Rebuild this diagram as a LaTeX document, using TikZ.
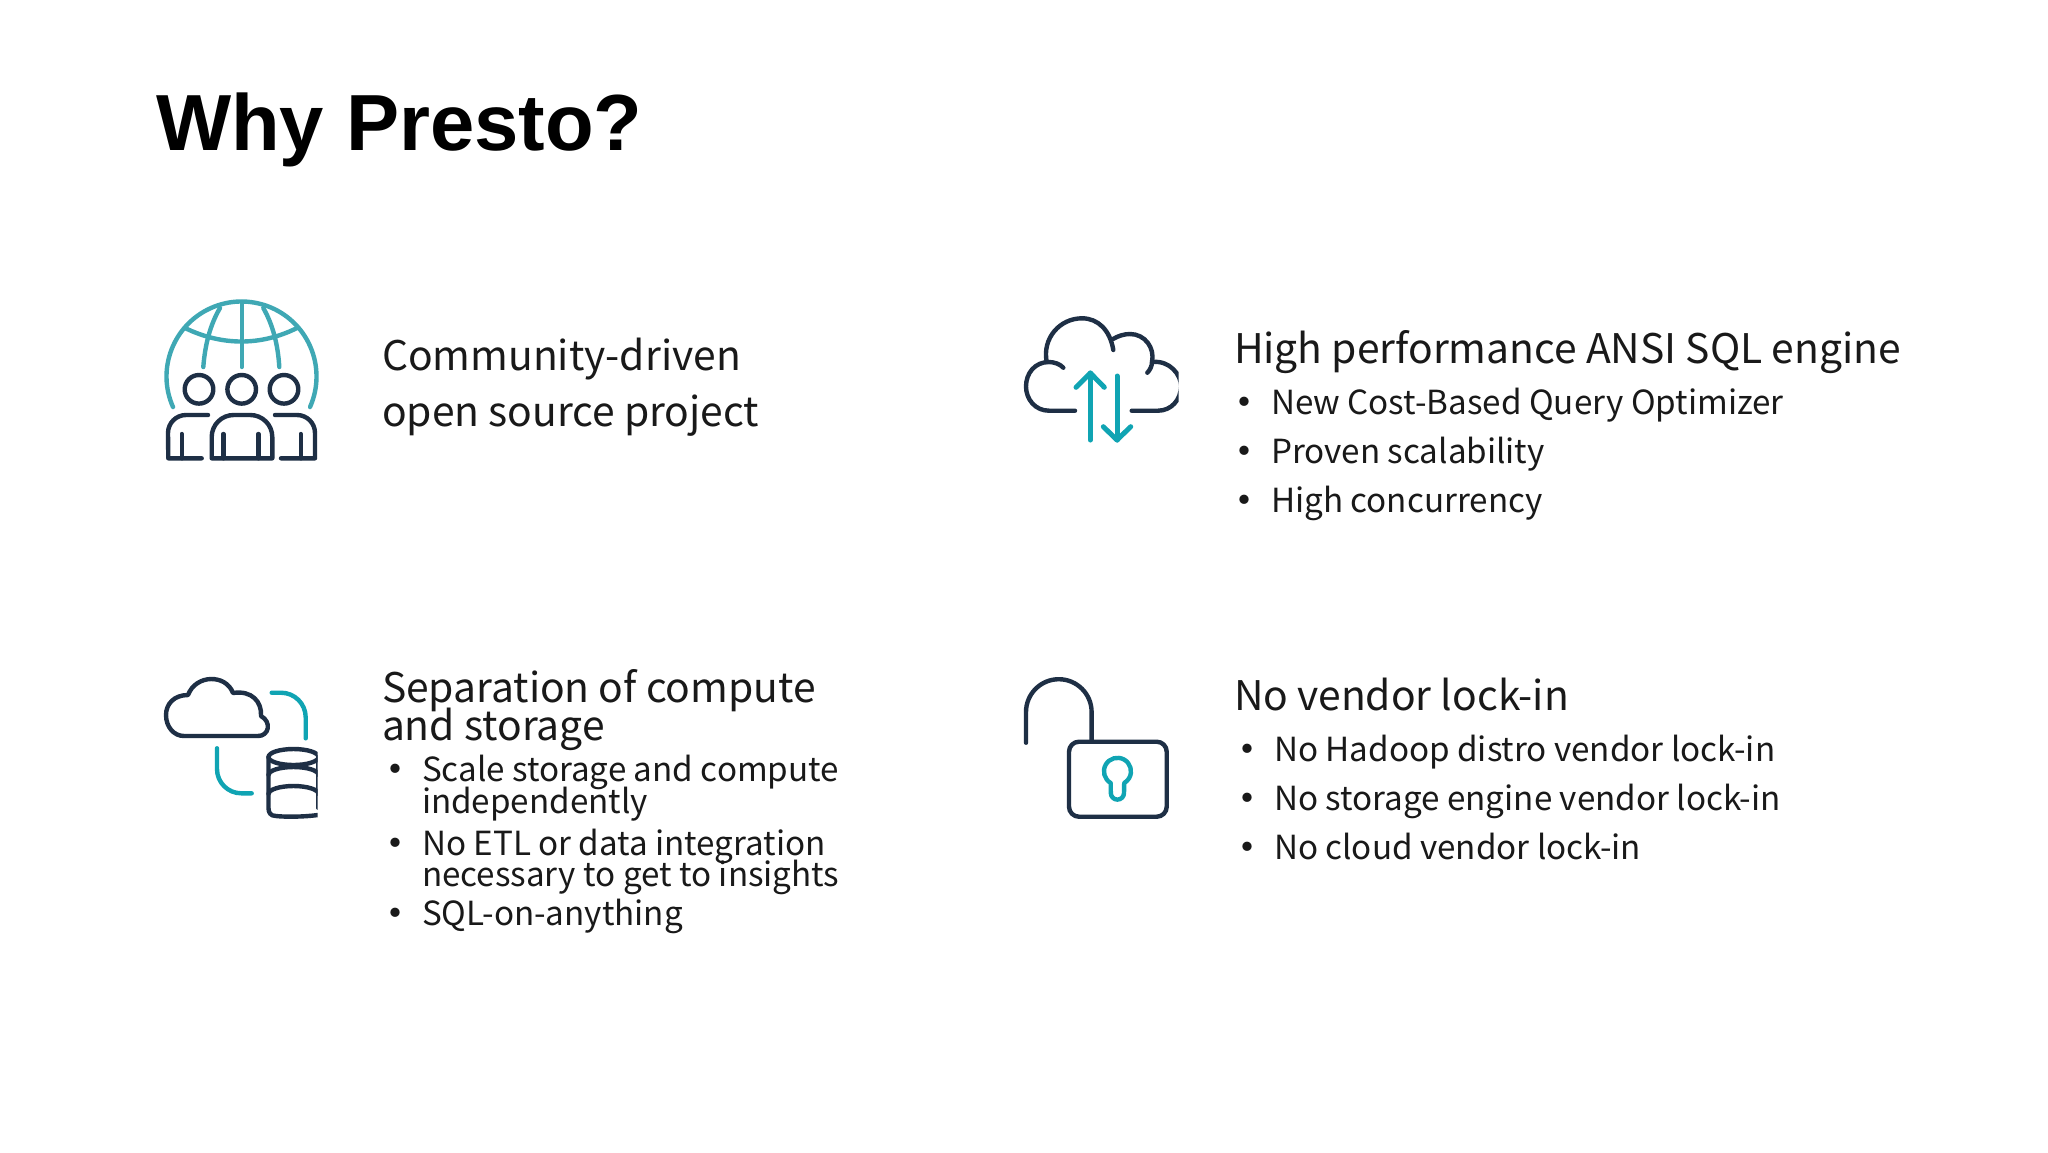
\documentclass[tikz,border=0pt]{standalone}
\usepackage{fontspec}
\setmainfont{Liberation Sans}
\newfontfamily\bodyfont{Noto Sans CJK SC}
\usepackage{tikz}
\usetikzlibrary{positioning}
\definecolor{navy}{HTML}{1E2F45}
\definecolor{globeteal}{HTML}{3FA8B4}
\definecolor{arrowteal}{HTML}{10A4B3}
\newcommand{\bul}{\makebox[0pt][r]{\raisebox{-2pt}{\fontsize{22}{22}\selectfont\textbullet}\hspace{2.2pt}}}
\tikzstyle{title} = [anchor=base west, inner sep=0pt, outer sep=0pt, font=\bfseries\fontsize{39.8}{44}\selectfont]
\tikzstyle{textline} = [align=left, anchor=north west, inner sep=0pt, outer sep=0pt, text=black!90, execute at begin node={\lineskiplimit=-20pt\relax\strut}, execute at end node=\strut]
\tikzstyle{heading} = [textline, font=\bodyfont\fontsize{20.4}{28}\selectfont]
\tikzstyle{item} = [textline, font=\bodyfont\fontsize{16.6}{24.5}\selectfont]
\tikzstyle{tightheading} = [textline, font=\bodyfont\fontsize{20.4}{19}\selectfont]
\tikzstyle{tightitem} = [textline, font=\bodyfont\fontsize{16.6}{15.7}\selectfont]
\tikzstyle{dark} = [draw=navy, line width=2.2pt, line cap=round, line join=round]
\tikzstyle{globe} = [draw=globeteal, line width=2.2pt, line cap=round, line join=round]
\tikzstyle{teal} = [draw=arrowteal, line width=2.5pt, line cap=round, line join=round]

\begin{document}
\begin{tikzpicture}[x=0.5pt, y=-0.5pt]
\useasboundingbox [fill=white] (0,0) rectangle (2048,1152);

\node (title) [title] at (156,150) {Why Presto?};

% Community
\node (community) [heading] at (382,338) {Community-driven\\open source project};

% Performance
\node (performance) [heading] at (1234,324) {High performance ANSI SQL engine};
\node (perf1) [item, below=0pt of performance.south west, anchor=north west, xshift=18.5pt] {\bul New Cost-Based Query Optimizer};
\node (perf2) [item, below=0pt of perf1.south west, anchor=north west] {\bul Proven scalability};
\node (perf3) [item, below=0pt of perf2.south west, anchor=north west] {\bul High concurrency};

% Separation
\node (separation) [tightheading] at (382,669) {Separation of compute\\and storage};
\node (sep1) [tightitem, below=2pt of separation.south west, anchor=north west, xshift=20pt] {\bul Scale storage and compute\\independently};
\node (sep2) [tightitem, below=3pt of sep1.south west, anchor=north west] {\bul No ETL or data integration\\necessary to get to insights};
\node (sep3) [tightitem, below=1.7pt of sep2.south west, anchor=north west] {\bul SQL-on-anything};

% Lock-in
\node (lockin) [heading] at (1234,671) {No vendor lock-in};
\node (lock1) [item, below=0pt of lockin.south west, anchor=north west, xshift=20pt] {\bul No Hadoop distro vendor lock-in};
\node (lock2) [item, below=0pt of lock1.south west, anchor=north west] {\bul No storage engine vendor lock-in};
\node (lock3) [item, below=0pt of lock2.south west, anchor=north west] {\bul No cloud vendor lock-in};

% Globe icon
\draw [globe] (173,407) arc (156:384:75);
\draw [globe] (185,328) .. controls (222,346) and (261,346) .. (297,328);
\draw [globe] (241.7,302) -- (241.7,367);
\draw [globe] (220,308) .. controls (210,325) and (205,345) .. (203.3,367);
\draw [globe] (263.3,308) .. controls (273,325) and (278,345) .. (279.3,367);
\draw [dark] (199,389.3) circle (14.3);
\draw [dark] (241.7,389.3) circle (14.3);
\draw [dark] (284,389.3) circle (14.3);
\draw [dark] (208,415) -- (186,415) arc (270:180:18) -- (168.3,458.3) -- (201.7,458.3);
\draw [dark] (181.7,434) -- (181.7,458.3);
\draw [dark] (211.7,458.3) -- (211.7,437) arc (180:270:22) -- (250.3,415) arc (270:360:22) -- (272.3,458.3) -- cycle;
\draw [dark] (223.3,434) -- (223.3,458.3);
\draw [dark] (258.3,434) -- (258.3,458.3);
\draw [dark] (275,415) -- (297,415) arc (270:360:18) -- (315,458.3) -- (281,458.3);
\draw [dark] (300.7,434) -- (300.7,458.3);

% Cloud icon with arrows
\begin{scope}
\clip (1000,300) rectangle (1178.5,450);
\draw [dark] (1075,410.7) -- (1049,410.7) .. controls (1035,410.7) and (1026,399) .. (1026,386.5) .. controls (1026,373) and (1035,362) .. (1049,362) .. controls (1054,362) and (1060,364) .. (1063.3,367.7);
\draw [dark] (1046.7,362) .. controls (1042,338) and (1060,318.3) .. (1082,318.3) .. controls (1098,318.3) and (1110,330) .. (1113.3,350);
\draw [dark] (1113,339) .. controls (1118,336) and (1124,334) .. (1130,334) .. controls (1145,334) and (1155,348) .. (1152,362) .. controls (1152,366) and (1150,370) .. (1147.3,372.7);
\draw [dark] (1152,362) .. controls (1170,360) and (1181,375) .. (1181,386) .. controls (1181,400) and (1171,410.7) .. (1158,410.7) -- (1131.7,410.7);
\end{scope}
\draw [teal] (1090.3,440) -- (1090.3,373);
\draw [teal] (1076,387.3) -- (1090.3,373) -- (1104.3,387.3);
\draw [teal] (1117,376) -- (1117,440);
\draw [teal] (1103.3,426.7) -- (1117,440) -- (1130.7,426.7);

% Cloud and database icon
\draw [dark] (184,736) -- (258,736) .. controls (269,736) and (272,722) .. (261,716) .. controls (262,702) and (252,690) .. (233,693) .. controls (226,674) and (196,674) .. (188,695) .. controls (174,695) and (166,704) .. (166,715) .. controls (166,727) and (174,736) .. (184,736) -- cycle;
\draw [teal, line width=2.2pt] (271.7,692.7) -- (281,692.7) arc (270:360:24.7) -- (305.7,738.3);
\draw [teal, line width=2.2pt] (217,748.3) -- (217,769) arc (180:90:24.3) -- (251.7,793.3);
\begin{scope}
\clip (250,740) rectangle (317.7,830);
\draw [dark] (293.5,757) ellipse (25 and 8);
\draw [dark] (268.5,757) -- (268.5,808) .. controls (268.5,812) and (270,816) .. (276,816) .. controls (285,817) and (303,817) .. (318,815);
\draw [dark] (318.5,757) -- (318.5,808);
\draw [dark] (268.5,775) arc (180:360:25 and 8);
\draw [dark] (268.5,794) arc (180:360:25 and 8);
\end{scope}

% Lock icon
\draw [dark] (1026,742.7) -- (1026,712) arc (180:360:32.8) -- (1091.6,740);
\draw [dark, rounded corners=5pt] (1069,741.7) rectangle (1166.7,816.7);
\draw [globe, draw=arrowteal] (1110.7,783) arc (120:420:13.5) -- (1124,793) arc (0:180:6.6) -- cycle;
\end{tikzpicture}
\end{document}
